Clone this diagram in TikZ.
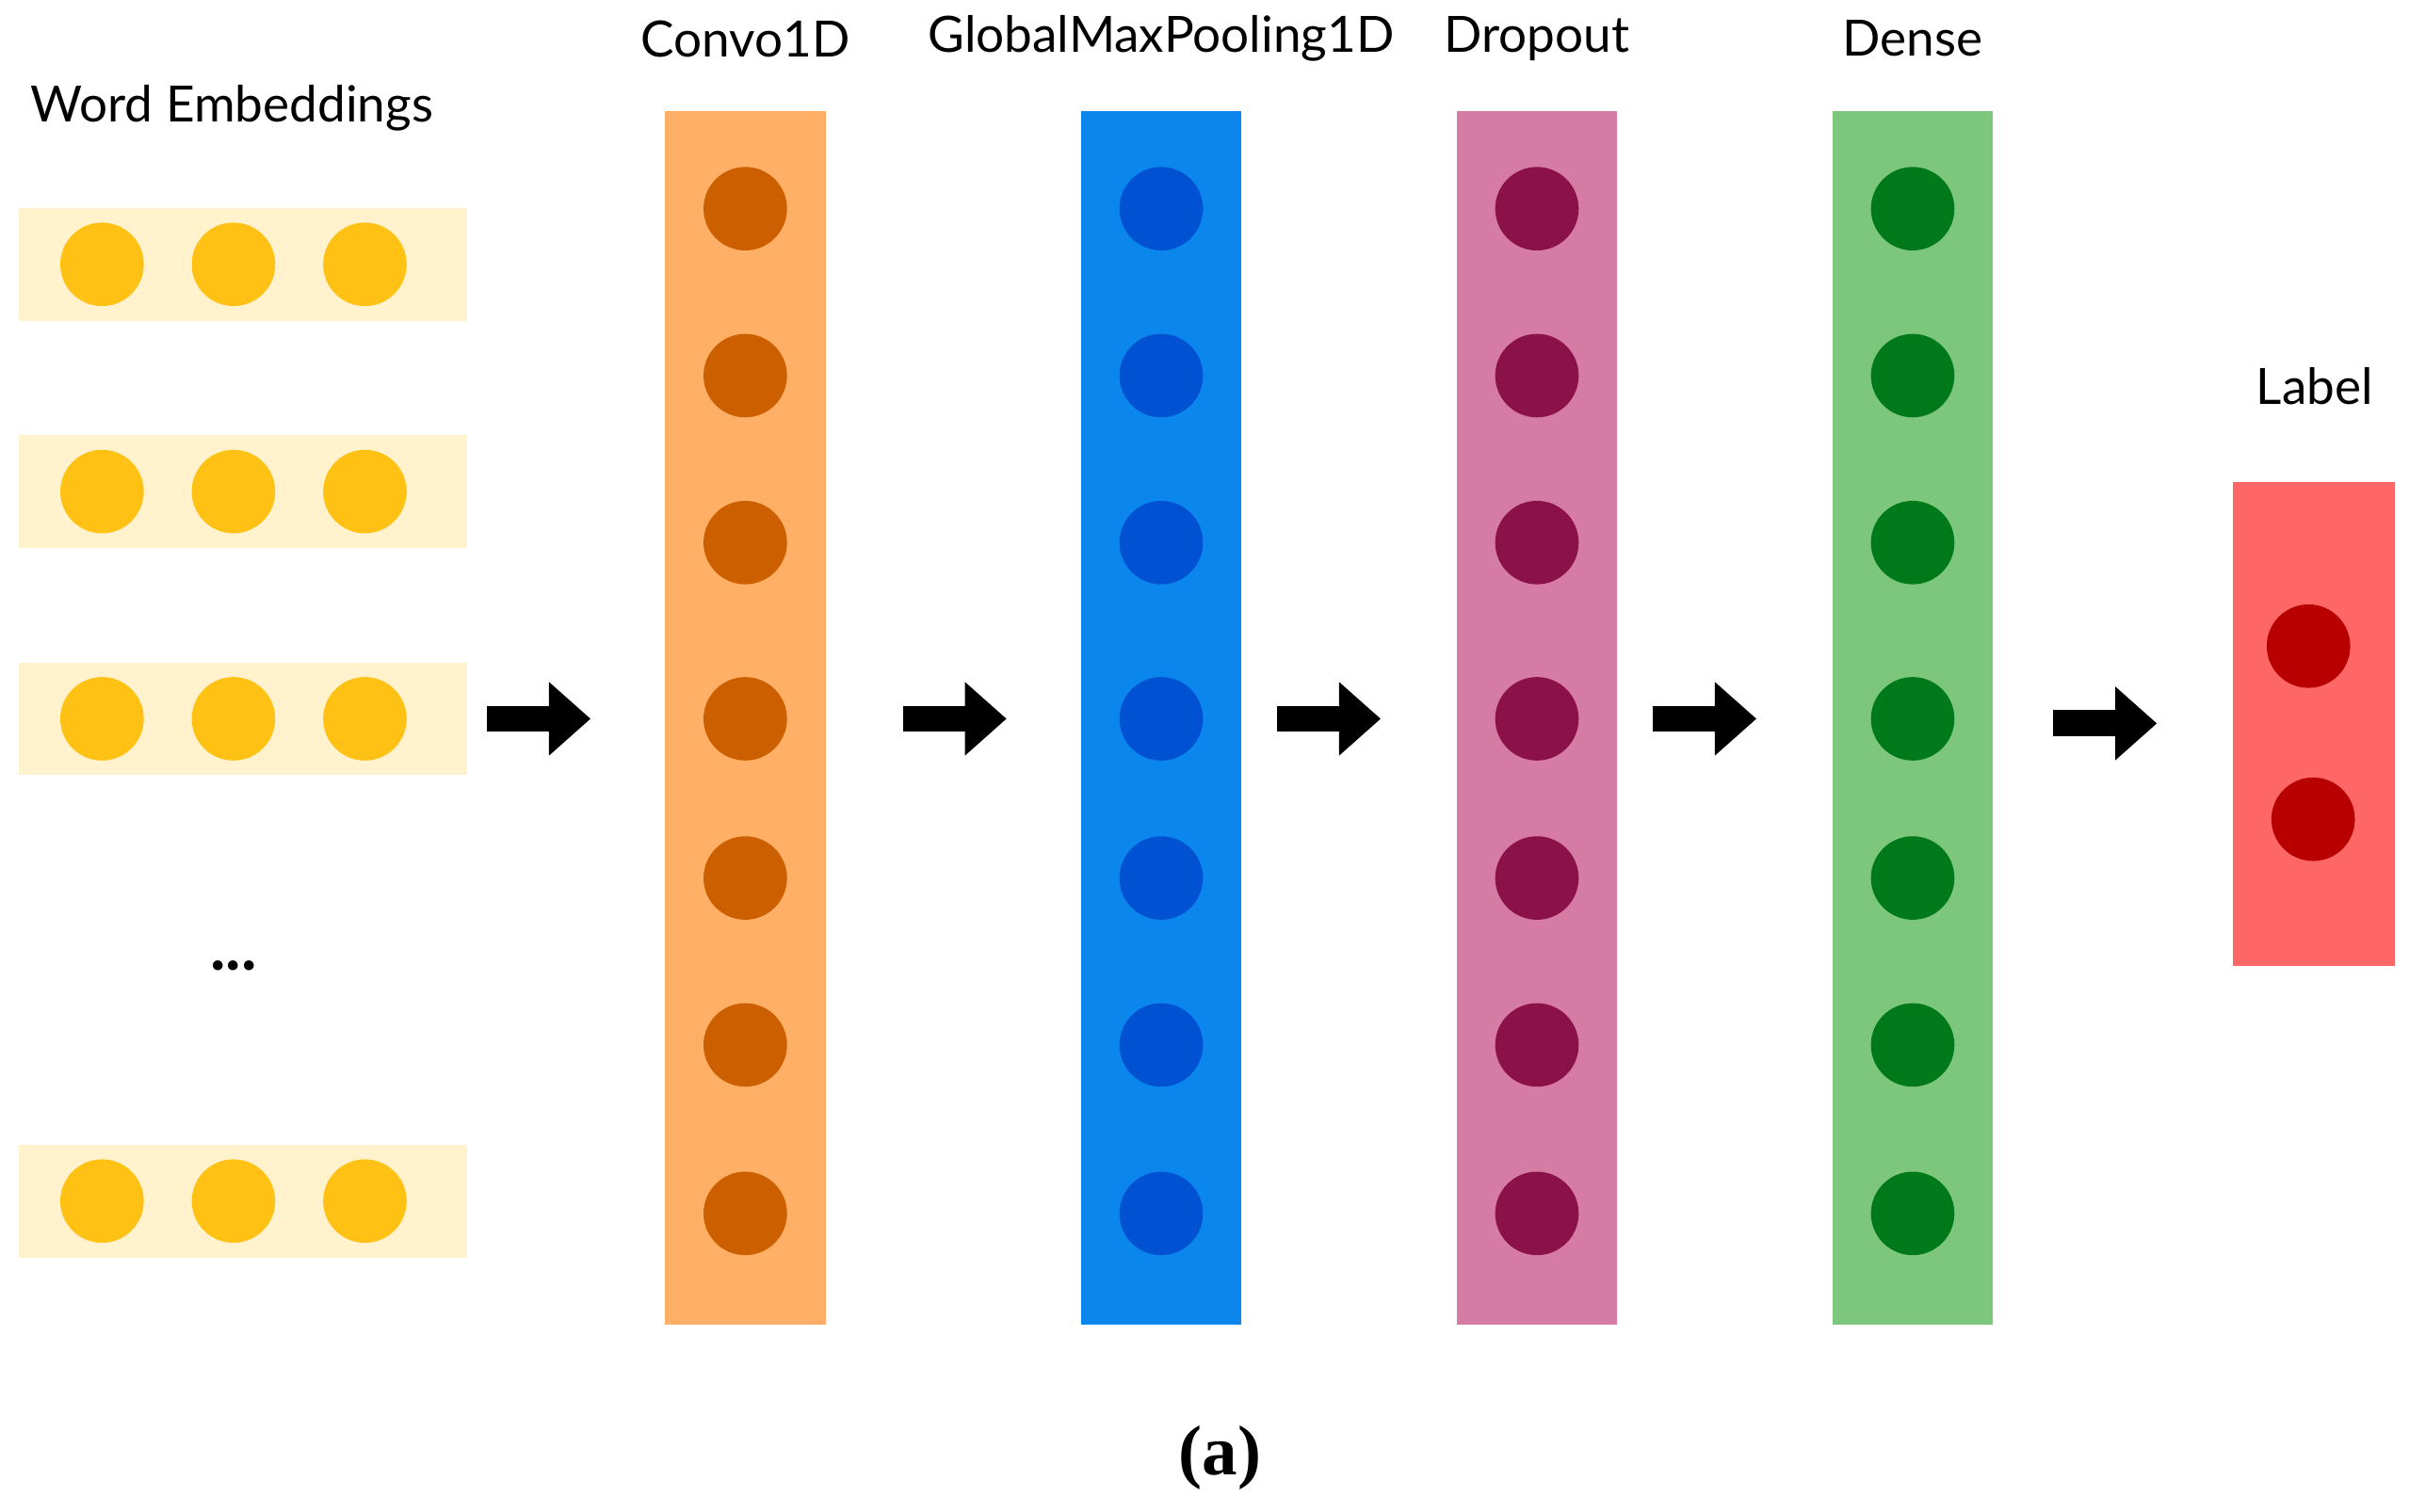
\documentclass[tikz,border=0pt]{standalone}
\usepackage{fontspec}
\setmainfont{Lato}
\newfontfamily\capfont{Liberation Serif}
\usetikzlibrary{arrows.meta,positioning}
\definecolor{embbg}{HTML}{FFF2CC}
\definecolor{embdot}{HTML}{FFC114}
\definecolor{convbg}{HTML}{FFB066}
\definecolor{convdot}{HTML}{CC6000}
\definecolor{poolbg}{HTML}{0A86EC}
\definecolor{pooldot}{HTML}{0052D2}
\definecolor{dropbg}{HTML}{D67BA3}
\definecolor{dropdot}{HTML}{8A1248}
\definecolor{densebg}{HTML}{7DC77D}
\definecolor{densedot}{HTML}{00791A}
\definecolor{outbg}{HTML}{FF6666}
\definecolor{outdot}{HTML}{B80000}

\begin{document}
\begin{tikzpicture}[
    embrow/.style={rectangle, fill=embbg, minimum width=2.9cm, minimum height=0.73cm, inner sep=0},
    layer/.style={rectangle, minimum width=1.04cm, minimum height=7.85cm, inner sep=0},
    unit/.style={circle, minimum size=0.54cm, inner sep=0},
    title/.style={font=\fontsize{9.2}{11}\selectfont},
    arrow/.style={-{Triangle[length=0.27cm,width=0.46cm]}, line width=0.17cm}
]
\useasboundingbox (0,0) rectangle (15.58,-9.78);

% Word embeddings
\node[title] (embtitle) at (1.50,-0.70) {Word Embeddings};
\foreach \r/\y in {1/-1.71,2/-3.18,3/-4.65,4/-7.77} {
    \node[embrow] (emb\r) at (1.57,\y) {};
    \foreach \i/\x in {1/0.66,2/1.51,3/2.36}
        \node[unit, fill=embdot] (emb\r u\i) at (\x,\y) {};
}
\node[font=\large\bfseries] (dots) at (1.51,-6.25) {...};

% Hidden layers
\foreach \n/\x/\t in {conv/4.82/Convo1D,pool/7.51/GlobalMaxPooling1D,drop/9.94/Dropout,dense/12.37/Dense} {
    \node[layer, fill=\n bg] (\n) at (\x,-4.645) {};
    \node[title] (\n title) at (\x,-0.25) {\t};
    \foreach \i/\y in {1/-1.35,2/-2.43,3/-3.51,4/-4.65,5/-5.68,6/-6.76,7/-7.85}
        \node[unit, fill=\n dot] (\n u\i) at (\x,\y) {};
}

% Output
\node[rectangle, fill=outbg, minimum width=1.05cm, minimum height=3.13cm, inner sep=0] (out) at (14.965,-4.685) {};
\node[title] (outtitle) at (14.97,-2.50) {Label};
\node[unit, fill=outdot] (outu1) at (14.93,-4.18) {};
\node[unit, fill=outdot] (outu2) at (14.96,-5.30) {};

% Caption
\node[font=\fontsize{13}{15}\capfont\bfseries] (caption) at (7.89,-9.43) {(a)};

% Arrows
\foreach \k/\a/\b/\y in {1/3.15/3.82/-4.65,2/5.84/6.51/-4.65,3/8.26/8.93/-4.65,4/10.69/11.36/-4.65,5/13.28/13.95/-4.68} {
    \coordinate (s\k) at (\a,\y);
    \coordinate (e\k) at (\b,\y);
    \draw[arrow] (s\k) -- (e\k);
}
\end{tikzpicture}
\end{document}
